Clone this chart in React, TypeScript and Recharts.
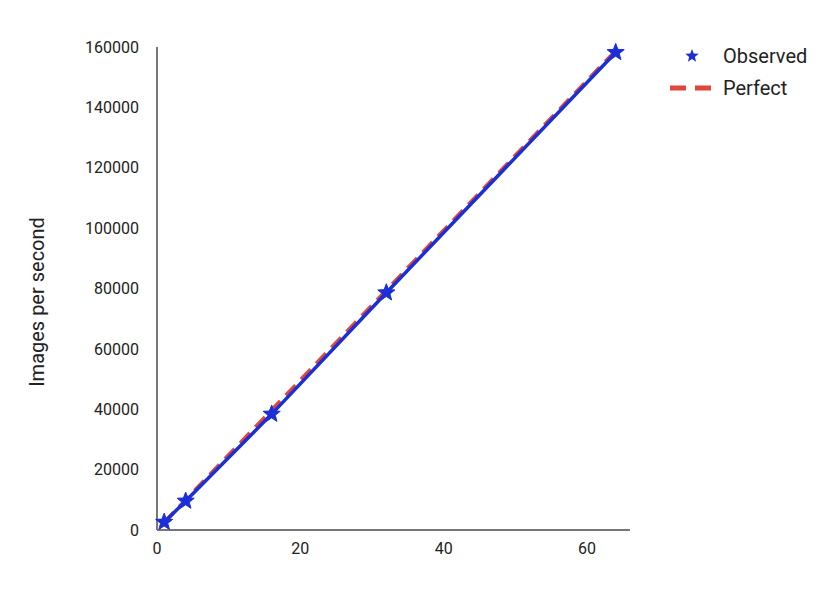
import React from "react";
import { LineChart, Line, XAxis, YAxis, Legend } from "recharts";

const gpus = [1, 4, 16, 32, 64];
const observedValues = [2600, 9600, 38400, 78600, 158200];
const perfectValues = [2480, 9920, 39680, 79360, 158720];
const xTicks = [0, 20, 40, 60];
const yTicks = [0, 20000, 40000, 60000, 80000, 100000, 120000, 140000, 160000];
const yLabel = "Images per second";

const observedData = gpus.map((x, i) => ({ x, y: observedValues[i] }));
const perfectData = gpus.map((x, i) => ({ x, y: perfectValues[i] }));

const BLUE = "#1b2fd8";
const RED = "#e0473a";
const FONT = "Roboto, 'Noto Sans', sans-serif";

function starPath(cx: number, cy: number, R: number, r: number) {
  let d = "";
  for (let i = 0; i < 10; i++) {
    const rad = i % 2 === 0 ? R : r;
    const a = -Math.PI / 2 + (i * Math.PI) / 5;
    const px = cx + rad * Math.cos(a);
    const py = cy + rad * Math.sin(a);
    d += (i === 0 ? "M" : "L") + px.toFixed(2) + "," + py.toFixed(2);
  }
  return d + "Z";
}

const StarDot = (props: any) => {
  const { cx, cy, index } = props;
  if (cx == null || cy == null) return <g key={index} />;
  return <path key={index} d={starPath(cx, cy, 9, 3.8)} fill={BLUE} stroke={BLUE} strokeWidth={1} strokeLinejoin="round" />;
};

const YLabel = () => (
  <text
    transform="translate(44, 302) rotate(-90)"
    textAnchor="middle"
    fontSize={20}
    fontFamily={FONT}
    fill="#222"
  >
    {yLabel}
  </text>
);

const LegendContent = () => (
  <svg width={160} height={60} style={{ overflow: "visible" }}>
    <path d={starPath(22, 12, 7, 3)} fill={BLUE} />
    <text x={53} y={12} dominantBaseline="central" fontSize={20} fontFamily={FONT} fill="#222">Observed</text>
    <line x1={0} y1={44} x2={42} y2={44} stroke={RED} strokeWidth={5} strokeDasharray="16 9" />
    <text x={53} y={44} dominantBaseline="central" fontSize={20} fontFamily={FONT} fill="#222">Perfect</text>
  </svg>
);

export default function App() {
  return (
    <div style={{ position: "absolute", left: 0, top: 0, width: 818, height: 593, background: "#fff" }}>
      <LineChart width={818} height={593} margin={{ top: 47, right: 28, bottom: 33, left: 0 }}>
        <XAxis
          type="number"
          dataKey="x"
          domain={[0, 66]}
          ticks={xTicks}
          height={30}
          tickLine={false}
          axisLine={{ stroke: "#777", strokeWidth: 2 }}
          tick={{ fill: "#222", fontSize: 16, fontFamily: FONT }}
          tickMargin={7}
          allowDuplicatedCategory={false}
        />
        <YAxis
          type="number"
          dataKey="y"
          width={157}
          domain={[0, 160000]}
          ticks={yTicks}
          tickLine={false}
          axisLine={{ stroke: "#777", strokeWidth: 2 }}
          tick={{ fill: "#222", fontSize: 16, fontFamily: FONT }}
          tickMargin={12}
          label={<YLabel />}
        />
        <Legend
          content={<LegendContent />}
          layout="vertical"
          verticalAlign="top"
          align="right"
          wrapperStyle={{ position: "absolute", left: 670, top: 44, width: 160 }}
        />
        <Line
          data={perfectData}
          dataKey="y"
          name="Perfect"
          stroke={RED}
          strokeWidth={4}
          strokeDasharray="14 8"
          dot={false}
          activeDot={false}
          isAnimationActive={false}
        />
        <Line
          data={observedData}
          dataKey="y"
          name="Observed"
          stroke={BLUE}
          strokeWidth={3.5}
          dot={StarDot}
          activeDot={false}
          isAnimationActive={false}
        />
      </LineChart>
    </div>
  );
}
